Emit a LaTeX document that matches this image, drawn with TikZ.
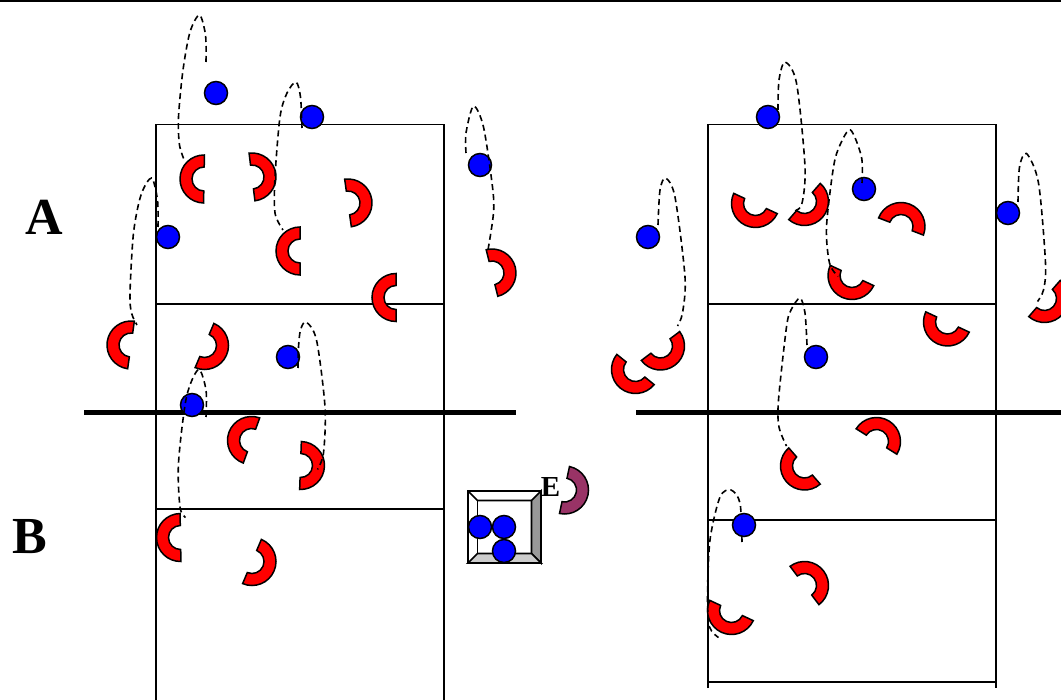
\documentclass[tikz,border=0pt]{standalone}
\usepackage{fontspec}
\setmainfont{Liberation Serif}
\definecolor{glovered}{RGB}{255,0,0}
\definecolor{glovemaroon}{RGB}{153,51,102}
\definecolor{ballblue}{RGB}{0,0,255}
\tikzset{
  court/.style={line width=1.7pt},
  netline/.style={line width=5pt},
  ball/.style={circle, draw, fill=ballblue, line width=1.5pt, inner sep=0pt, minimum size=23pt},
  flight/.style={line width=1.6pt, dash pattern=on 6pt off 4pt},
  teamlabel/.style={font=\bfseries\fontsize{52}{52}\selectfont, inner sep=0pt},
}
% name, centre, direction of the middle of the arc, colour
\newcommand{\catcher}[4]{
  \coordinate (#1) at (#2);
  \draw[fill=#4, line width=1.5pt, shift={(#2)}] (#3+90:24pt) arc[start angle=#3+90, delta angle=-180, radius=24pt]
    -- (#3-90:12pt) arc[start angle=#3-90, delta angle=180, radius=12pt] -- cycle;
}
\begin{document}
\begin{tikzpicture}[x=1pt,y=-1pt]
  \useasboundingbox (0,0) rectangle (1061,700);
  \draw[line width=2pt] (0,1) -- (1061,1);

  % left court
  \draw[court] (156,700) -- (156,124.5) -- (444,124.5) -- (444,700);
  \draw[court] (156,304) -- (444,304);
  \draw[court] (156,509) -- (444,509);
  \draw[netline] (84,412.5) -- (516,412.5);

  % right court
  \draw[court] (708,688) -- (708,124.5) -- (996,124.5) -- (996,688);
  \draw[court] (708,304) -- (996,304);
  \draw[court] (708,520) -- (996,520);
  \draw[court] (708,682) -- (996,682);
  \draw[netline] (636,412.5) -- (1061,412.5);

  \node[teamlabel] (teamA) at (44.5,217.5) {A};
  \node[teamlabel] (teamB) at (30,537) {B};

  % left players
  \catcher{gA}{204,179}{179}{glovered}
  \catcher{gB}{252,177}{7}{glovered}
  \catcher{gC}{348,203}{8}{glovered}
  \catcher{gD}{300,251}{180}{glovered}
  \catcher{gE}{396,297.5}{180}{glovered}
  \catcher{gF}{492,273}{14}{glovered}
  \catcher{gG}{131,345}{172}{glovered}
  \catcher{gH}{204.5,345.5}{-23}{glovered}
  \catcher{gI}{251.5,440.5}{160}{glovered}
  \catcher{gJ}{300.5,465.5}{-2}{glovered}
  \catcher{gK}{180.5,537.5}{181}{glovered}
  \catcher{gL}{252,561.5}{-23}{glovered}

  % right players
  \catcher{hA}{755.5,203.5}{-115}{glovered}
  \catcher{hB}{804.5,201.5}{-41}{glovered}
  \catcher{hC}{901,226.5}{69}{glovered}
  \catcher{hD}{852,275.5}{-115}{glovered}
  \catcher{hE}{947.5,322}{-115}{glovered}
  \catcher{hF}{1044.5,298.5}{-41}{glovered}
  \catcher{hG}{660.5,346}{-53}{glovered}
  \catcher{hH}{635.5,369.5}{-129}{glovered}
  \catcher{hI}{876.5,441.5}{58}{glovered}
  \catcher{hJ}{804.5,466}{-139}{glovered}
  \catcher{hK}{804.5,585.5}{37}{glovered}
  \catcher{hL}{731.5,610.5}{-115}{glovered}

  % ball box
  \draw[court, fill=white] (468,491) rectangle (541,563);
  \draw[court, fill=black!40] (541,491) -- (541,563) -- (531.5,553.5) -- (531.5,500.5) -- cycle;
  \draw[court, fill=black!20] (468,563) -- (541,563) -- (531.5,553.5) -- (477.5,553.5) -- cycle;
  \draw[court] (468,491) -- (477.5,500.5) -- (531.5,500.5);
  \draw[court] (477.5,500.5) -- (477.5,553.5);
  \node[ball] (boxA) at (480,527) {};
  \node[ball] (boxB) at (504,527) {};
  \node[ball] (boxC) at (504,551) {};
  \catcher{gM}{564.5,490}{-12}{glovemaroon}
  \node[font=\bfseries\fontsize{29}{29}\selectfont, inner sep=0pt] (labelE) at (550.5,487) {E};

  % balls
  \node[ball] (ballA) at (216,93) {};
  \node[ball] (ballB) at (312,117) {};
  \node[ball] (ballC) at (480,165) {};
  \node[ball] (ballD) at (168,237) {};
  \node[ball] (ballE) at (288,357) {};
  \node[ball] (ballF) at (192,405) {};
  \node[ball] (ballG) at (768,117) {};
  \node[ball] (ballH) at (864,189) {};
  \node[ball] (ballI) at (1008,213) {};
  \node[ball] (ballJ) at (648,237) {};
  \node[ball] (ballK) at (816,357) {};

  % flight paths
  \draw[flight] plot[smooth] coordinates {([shift={(-10,-31)}]ballA) (205.5,35) (199.5,15) (190,32) (183,70) (178.5,117) (179.5,145) ([shift={(-19,-17)}]gA)};
  \draw[flight] plot[smooth] coordinates {([shift={(-10,11)}]ballB) (300.5,97) (296,82) (287,93) (280,117) (275,177) (275,213) ([shift={(-17,-21)}]gD)};
  \draw[flight] plot[smooth] coordinates {([shift={(-14,-12)}]ballC) (466,133) (473.5,106) (483.5,127) (492.5,187) (493.5,213) ([shift={(-4,-23)}]gF)};
  \draw[flight] plot[smooth] coordinates {([shift={(-10,-10)}]ballD) (157.5,200) (151.5,178) (141,195) (133.5,233) (130,293) (131.5,313) ([shift={(6,-20)}]gG)};
  \draw[flight] plot[smooth] coordinates {([shift={(10,11)}]ballE) (298.5,347) (300.5,330) (306,322) (316.5,340) (325,407) (323.5,453) ([shift={(17,4)}]gJ)};
  \draw[flight] plot[smooth] coordinates {([shift={(14,12)}]ballF) (206,390) (198.5,369.5) (186.5,397) (178.5,463) (180,507) ([shift={(5,-20)}]gK)};
  \draw[flight] plot[smooth] coordinates {([shift={(10,-7)}]ballG) (779,80) (785,62) (796.5,83) (805,167) (801.5,205) ([shift={(-13,10)}]hB)};
  \draw[flight] plot[smooth] coordinates {([shift={(-2,-6)}]ballH) (861.5,157) (850.5,130) (840,145) (833.5,167) (826.5,227) (829.5,263) ([shift={(-14,1)}]hD)};
  \draw[flight] plot[smooth] coordinates {([shift={(10,-12)}]ballJ) (660,190) (665.5,178) (675,197) (685,277) (682.5,313) ([shift={(17,-20)}]hG)};
  \draw[flight] plot[smooth] coordinates {([shift={(10,-11)}]ballI) (1019.5,167) (1026.5,153.5) (1038.5,183) (1045.5,263) (1043.5,290) ([shift={(-7,3)}]hF)};
  \draw[flight] plot[smooth] coordinates {([shift={(-9,-12)}]ballK) (805,313) (800,298) (791,310) (786.5,327) (778.5,400) (779,427) ([shift={(-18,-20)}]hJ)};

  \coordinate (spotL) at (744,525);
  \draw[flight] plot[smooth] coordinates {([shift={(-2,17)}]spotL) (740,503) (731,490) (720,497) (710,540) (707.5,597) (709.5,627) ([shift={(-13,27)}]hL)};
  \node[ball] (ballL) at (spotL) {};
\end{tikzpicture}
\end{document}
